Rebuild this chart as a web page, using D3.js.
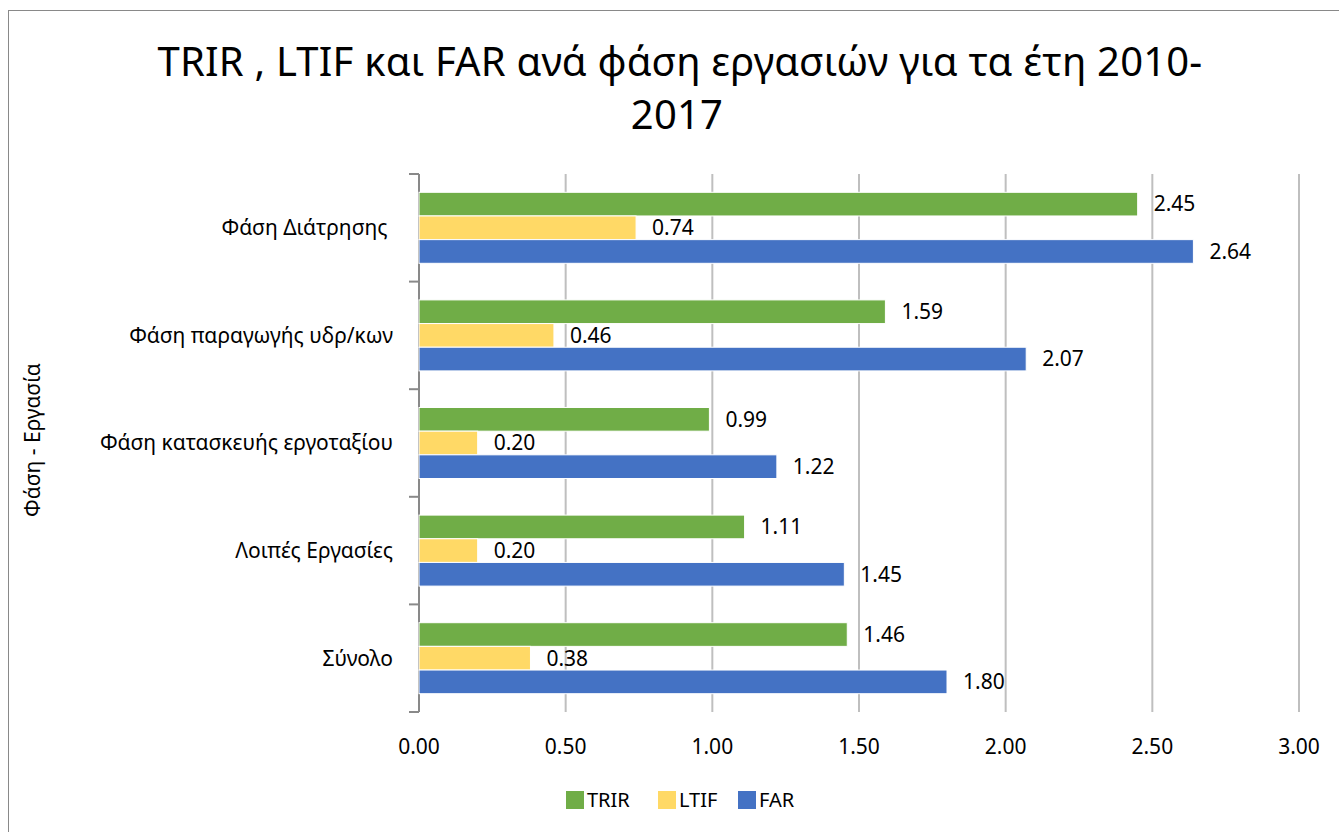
<!DOCTYPE html>
<html>
<head>
<meta charset="utf-8">
<script src="https://cdnjs.cloudflare.com/ajax/libs/d3/7.8.5/d3.min.js"></script>
<style>
  body { margin: 0; background: #fff; }
  text { font-family: "Noto Sans", "Open Sans", sans-serif; fill: #000; }
</style>
</head>
<body>
<div id="chart"></div>
<script>
// data
var categories = ["Φάση Διάτρησης ", "Φάση παραγωγής υδρ/κων", "Φάση κατασκευής εργοταξίου", "Λοιπές Εργασίες", "Σύνολο"];
var seriesNames = ["TRIR", "LTIF", "FAR"];
var trir = [2.45, 1.59, 0.99, 1.11, 1.46];
var ltif = [0.74, 0.46, 0.20, 0.20, 0.38];
var far = [2.64, 2.07, 1.22, 1.45, 1.80];
var xTicks = [0, 0.5, 1, 1.5, 2, 2.5, 3];

var colors = { TRIR: "#70ad47", LTIF: "#ffd966", FAR: "#4472c4" };
var seriesValues = { TRIR: trir, LTIF: ltif, FAR: far };

var width = 1339, height = 832;
var margin = { top: 174, left: 419, right: 40, bottom: 120 };
var plotW = 1299 - margin.left,
    plotH = 712 - margin.top;

var svg = d3.select("#chart")
    .append("svg")
    .attr("width", width)
    .attr("height", height);

// chart frame
svg.append("rect")
    .attr("x", 8.5).attr("y", 10.5)
    .attr("width", width).attr("height", height)
    .attr("fill", "none")
    .attr("stroke", "#898989")
    .attr("stroke-width", 1);

// title
var title = svg.append("text")
    .attr("text-anchor", "middle")
    .style("font-size", "40px")
    .style("letter-spacing", "0.2px");
title.append("tspan").attr("x", 680).attr("y", 76)
    .text("TRIR , LTIF και FAR ανά φάση εργασιών για τα έτη 2010-");
title.append("tspan").attr("x", 677).attr("y", 129)
    .text("2017");

var g = svg.append("g")
    .attr("transform", "translate(" + margin.left + "," + margin.top + ")");

var x = d3.scaleLinear().domain([0, 3]).range([0, plotW]);

// gridlines
g.selectAll(".grid")
    .data(xTicks.slice(1))
    .join("line")
    .attr("class", "grid")
    .attr("x1", d => x(d)).attr("x2", d => x(d))
    .attr("y1", 0).attr("y2", plotH)
    .attr("stroke", "#bfbfbf")
    .attr("stroke-width", 2);

// x tick labels
g.selectAll(".xlab")
    .data(xTicks)
    .join("text")
    .attr("class", "xlab")
    .attr("x", d => x(d))
    .attr("y", plotH + 35)
    .attr("dy", "0.35em")
    .attr("text-anchor", "middle")
    .style("font-size", "21px")
    .text(d3.format(".2f"));

// category axis with outer ticks
var bandEdges = d3.range(categories.length + 1).map(i => i * plotH / categories.length);
g.selectAll(".ytick")
    .data(bandEdges)
    .join("line")
    .attr("class", "ytick")
    .attr("x1", -10).attr("x2", 0)
    .attr("y1", d => d).attr("y2", d => d)
    .attr("stroke", "#898989")
    .attr("stroke-width", 2);

g.append("line")
    .attr("x1", 0).attr("x2", 0)
    .attr("y1", 0).attr("y2", plotH)
    .attr("stroke", "#898989")
    .attr("stroke-width", 2);

var catH = plotH / categories.length;
g.selectAll(".ylab")
    .data(categories)
    .join("text")
    .attr("class", "ylab")
    .attr("x", -26)
    .attr("y", (d, i) => catH * (i + 0.5))
    .attr("dy", "0.35em")
    .attr("text-anchor", "end")
    .style("white-space", "pre")
    .style("font-size", "21px")
    .text(d => d);

// bars
var rows = [];
categories.forEach(function (c, i) {
    seriesNames.forEach(function (s) {
        rows.push({ cat: c, series: s, value: seriesValues[s][i] });
    });
});

var outerPad = (catH - 71) / 2;
var barH = 71 / 3;

g.selectAll(".bar")
    .data(rows)
    .join("rect")
    .attr("class", "bar")
    .attr("x", 0)
    .attr("y", d => categories.indexOf(d.cat) * catH + outerPad + seriesNames.indexOf(d.series) * barH)
    .attr("width", d => x(d.value))
    .attr("height", barH)
    .attr("fill", d => colors[d.series])
    .attr("stroke", "#fff")
    .attr("stroke-width", 1);

g.selectAll(".val")
    .data(rows)
    .join("text")
    .attr("class", "val")
    .attr("x", d => x(d.value) + 16)
    .attr("y", d => categories.indexOf(d.cat) * catH + outerPad + (seriesNames.indexOf(d.series) + 0.5) * barH)
    .attr("dy", "0.35em")
    .style("font-size", "21px")
    .text(d => d3.format(".2f")(d.value));

// axis title
svg.append("text")
    .attr("transform", "translate(40,440) rotate(-90)")
    .attr("text-anchor", "middle")
    .style("font-size", "21px")
    .text("Φάση - Εργασία");

// legend
var legendX = [566, 658, 738];
var legend = svg.selectAll(".legend")
    .data(seriesNames)
    .join("g")
    .attr("class", "legend")
    .attr("transform", (d, i) => "translate(" + legendX[i] + ",791)");

legend.append("rect")
    .attr("width", 18).attr("height", 18)
    .attr("fill", d => colors[d]);

legend.append("text")
    .attr("x", 21)
    .attr("y", 9)
    .attr("dy", "0.35em")
    .style("font-size", "20px")
    .text(d => d);
</script>
</body>
</html>
